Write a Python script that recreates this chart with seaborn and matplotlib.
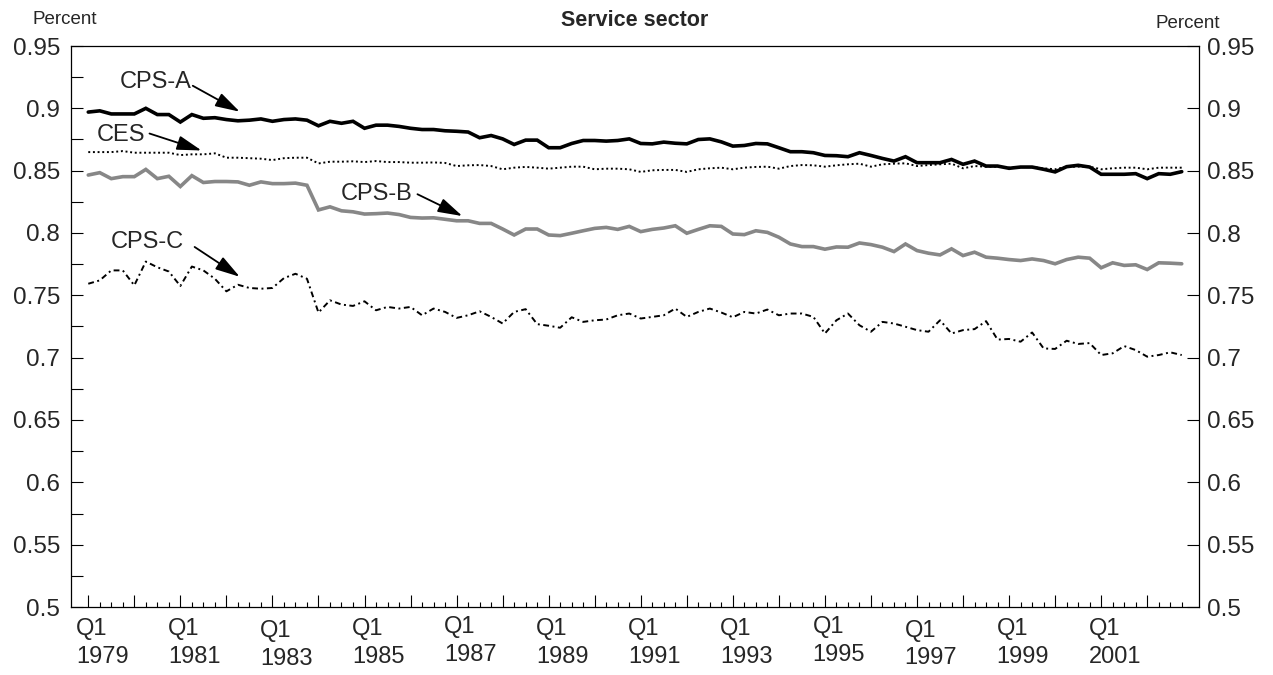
import numpy as np
import pandas as pd
import seaborn as sns
import matplotlib.pyplot as plt
from matplotlib.ticker import FixedLocator, NullFormatter

# Quarterly ratios, 1979Q1 - 2002Q4
start_year = 1979
n_quarters = 96

cps_a = [0.897, 0.898, 0.8955, 0.8955, 0.8955, 0.900, 0.895, 0.895, 0.889, 0.895,
         0.892, 0.8925, 0.891, 0.890, 0.8905, 0.8915, 0.8896, 0.891, 0.8915, 0.8905,
         0.886, 0.8896, 0.888, 0.8896, 0.884, 0.8865, 0.8865, 0.8855, 0.884, 0.883,
         0.883, 0.882, 0.8816, 0.881, 0.8764, 0.8782, 0.8755, 0.871, 0.8745, 0.8745,
         0.8684, 0.8684, 0.8718, 0.8742, 0.8742, 0.8737, 0.8742, 0.8755, 0.8718, 0.8715,
         0.8729, 0.872, 0.8715, 0.875, 0.8755, 0.8731, 0.8697, 0.8702, 0.8718, 0.8715,
         0.8684, 0.8652, 0.8652, 0.8644, 0.8622, 0.862, 0.8612, 0.8644, 0.8622, 0.8598,
         0.8577, 0.8612, 0.8564, 0.8564, 0.8564, 0.859, 0.8551, 0.8577, 0.8537, 0.8537,
         0.8519, 0.8529, 0.8529, 0.8511, 0.849, 0.8532, 0.8543, 0.8529, 0.8471, 0.8471,
         0.8471, 0.8476, 0.8436, 0.8476, 0.8471, 0.8492]

ces = [0.8649, 0.8649, 0.8649, 0.8657, 0.8644, 0.8644, 0.8644, 0.8644, 0.8625, 0.8631,
       0.8631, 0.8639, 0.8604, 0.8604, 0.8600, 0.8596, 0.8585, 0.8600, 0.8604, 0.8604,
       0.8558, 0.8572, 0.8572, 0.8575, 0.8569, 0.8577, 0.8569, 0.8569, 0.8564, 0.8564,
       0.8566, 0.8562, 0.8537, 0.8543, 0.8545, 0.8537, 0.8511, 0.8524, 0.853, 0.8524,
       0.8516, 0.8524, 0.8532, 0.8532, 0.8511, 0.8516, 0.8516, 0.8511, 0.849, 0.8503,
       0.8506, 0.8506, 0.849, 0.8511, 0.8519, 0.8524, 0.8511, 0.8524, 0.853, 0.8532,
       0.8516, 0.8537, 0.8545, 0.8543, 0.8532, 0.8543, 0.8551, 0.8556, 0.8532, 0.8551,
       0.8556, 0.8559, 0.8537, 0.8545, 0.8551, 0.8556, 0.8519, 0.8537, 0.8532, 0.8532,
       0.8524, 0.8529, 0.8529, 0.8519, 0.8511, 0.8532, 0.8532, 0.8532, 0.8511, 0.8519,
       0.8524, 0.8524, 0.8511, 0.8524, 0.8524, 0.8524]

cps_b = [0.8465, 0.8484, 0.8436, 0.8452, 0.8452, 0.851, 0.8436, 0.8455, 0.8373, 0.846,
         0.8405, 0.8413, 0.8413, 0.841, 0.8383, 0.841, 0.8396, 0.8396, 0.840, 0.8383,
         0.8185, 0.821, 0.8178, 0.817, 0.8152, 0.8155, 0.816, 0.8148, 0.8125, 0.812,
         0.8122, 0.811, 0.8098, 0.8098, 0.8077, 0.8077, 0.8032, 0.7984, 0.8032, 0.8032,
         0.7984, 0.7979, 0.7998, 0.8018, 0.8037, 0.8045, 0.8029, 0.8053, 0.8011, 0.8029,
         0.804, 0.8058, 0.7998, 0.8029, 0.8058, 0.8053, 0.7992, 0.7987, 0.8018, 0.8005,
         0.7966, 0.7912, 0.7891, 0.7891, 0.787, 0.7888, 0.7886, 0.792, 0.7907, 0.7886,
         0.7851, 0.7912, 0.7859, 0.7838, 0.7824, 0.7873, 0.7819, 0.7846, 0.7806, 0.7798,
         0.7787, 0.7779, 0.7792, 0.7779, 0.7753, 0.7787, 0.7806, 0.7798, 0.7721, 0.7761,
         0.774, 0.7745, 0.7707, 0.7761, 0.7758, 0.7753]

cps_c = [0.7593, 0.762, 0.770, 0.770, 0.758, 0.7771, 0.7725, 0.7691, 0.7575, 0.7731,
         0.770, 0.7633, 0.7532, 0.7585, 0.7559, 0.7553, 0.7559, 0.7638, 0.7673, 0.7633,
         0.7362, 0.746, 0.7426, 0.7415, 0.7452, 0.738, 0.7407, 0.7394, 0.7407, 0.734,
         0.7394, 0.7367, 0.7319, 0.734, 0.7372, 0.7327, 0.7274, 0.7367, 0.7389, 0.7269,
         0.7256, 0.724, 0.7324, 0.7287, 0.730, 0.7306, 0.734, 0.7354, 0.7314, 0.7327,
         0.734, 0.7394, 0.7327, 0.7367, 0.7394, 0.7362, 0.7324, 0.7367, 0.7354, 0.7386,
         0.734, 0.7354, 0.7354, 0.7327, 0.7194, 0.730, 0.7354, 0.726, 0.7208, 0.7287,
         0.7274, 0.7248, 0.7221, 0.7208, 0.730, 0.7194, 0.7221, 0.7229, 0.7293, 0.7145,
         0.715, 0.7128, 0.7202, 0.7074, 0.707, 0.7136, 0.711, 0.7117, 0.7021, 0.7035,
         0.7093, 0.7061, 0.7008, 0.7021, 0.7043, 0.7021]

series_names = ["CPS-A", "CES", "CPS-B", "CPS-C"]
label_years = list(range(1979, 2002, 2))
y_ticks = [0.5, 0.55, 0.6, 0.65, 0.7, 0.75, 0.8, 0.85, 0.9, 0.95]
y_tick_labels = ["0.5", "0.55", "0.6", "0.65", "0.7", "0.75", "0.8", "0.85", "0.9", "0.95"]

# time axis in fractional years
t = start_year + np.arange(n_quarters) / 4.0
df = pd.DataFrame({
    "t": np.tile(t, 4),
    "value": np.concatenate([cps_a, ces, cps_b, cps_c]),
    "series": np.repeat(series_names, n_quarters),
})

sns.set_theme(style="white")
plt.rcParams["font.family"] = ["Liberation Sans", "DejaVu Sans"]

fig = plt.figure(figsize=(12.73, 6.75), dpi=100)
ax = fig.add_axes([71 / 1273, 1 - 607 / 675, (1199 - 71) / 1273, (607 - 46) / 675])

styles = {
    "CPS-A": dict(color="black", lw=2.6, ls="-"),
    "CES": dict(color="black", lw=1.4, ls=(0, (1.0, 1.4))),
    "CPS-B": dict(color="#878787", lw=2.6, ls="-"),
    "CPS-C": dict(color="black", lw=1.4, ls=(0, (3.0, 1.8, 1.0, 1.8))),
}
for name in series_names:
    st = styles[name]
    sns.lineplot(data=df[df["series"] == name], x="t", y="value", ax=ax,
                 color=st["color"], lw=st["lw"], linestyle=st["ls"],
                 legend=False, solid_joinstyle="miter")

ax.set_xlim(start_year - 0.375, start_year + (n_quarters - 1) / 4 + 0.375)
ax.set_ylim(0.5, 0.95)
ax.set_xlabel("")
ax.set_ylabel("")

for sp in ax.spines.values():
    sp.set_color("black")
    sp.set_linewidth(0.9)
    sp.set_visible(True)

# x axis: yearly major ticks, quarterly minor ticks, all pointing inward
ax.xaxis.set_major_locator(FixedLocator(np.arange(start_year, start_year + n_quarters / 4)))
ax.xaxis.set_minor_locator(FixedLocator(t))
ax.xaxis.set_major_formatter(NullFormatter())
ax.tick_params(axis="x", which="major", direction="in", length=8.6, width=0.8,
               color="black", bottom=True, top=False)
ax.tick_params(axis="x", which="minor", direction="in", length=3.6, width=0.8,
               color="black", bottom=True, top=False)

# two-line quarter labels; a few sit slightly off the common baseline
label_nudge = {1983: -1.5, 1987: 1.2, 1995: 1.5, 1997: -1.2}
for yr in label_years:
    dy = label_nudge.get(yr, 0.0)
    ax.annotate(f"Q1\n{yr}", xy=(yr, 0), xycoords=ax.get_xaxis_transform(),
                xytext=(-9, -8 + dy), textcoords="offset points",
                ha="left", va="top", fontsize=17, linespacing=1.33)

# left y axis
ax.yaxis.set_major_locator(FixedLocator(y_ticks))
ax.yaxis.set_minor_locator(FixedLocator(np.arange(0.525, 0.95, 0.05)))
ax.set_yticklabels(y_tick_labels)
ax.tick_params(axis="y", which="both", direction="in", length=8.6, width=0.8,
               color="black", left=True, right=False, labelsize=17.5, pad=8)

# right y axis
axr = ax.twinx()
axr.set_ylim(ax.get_ylim())
axr.yaxis.set_major_locator(FixedLocator(y_ticks))
axr.set_yticklabels(y_tick_labels)
axr.tick_params(axis="y", which="major", direction="in", length=8.6, width=0.8,
                color="black", labelsize=17.5, pad=6)
axr.grid(False)
for sp in axr.spines.values():
    sp.set_visible(False)

# series annotations
notes = [
    ("CPS-A", (1980.46, 0.9209), (1981.27, 0.9181), (1982.29, 0.8973)),
    ("CES", (1979.71, 0.8786), (1980.33, 0.8798), (1981.46, 0.8662)),
    ("CPS-B", (1985.27, 0.8311), (1986.15, 0.8311), (1987.125, 0.8136)),
    ("CPS-C", (1980.29, 0.7924), (1981.31, 0.7888), (1982.29, 0.7649)),
]
for text, pos, a0, a1 in notes:
    ax.text(pos[0], pos[1], text, ha="center", va="center", fontsize=17)
    ax.annotate("", xy=a1, xytext=a0,
                arrowprops=dict(arrowstyle="-|>,head_length=0.75,head_width=0.22",
                                color="black", lw=1.3, mutation_scale=20,
                                shrinkA=0, shrinkB=0))

fig.text(635 / 1273, 1 - 21 / 675, "Service sector", ha="center", va="center",
         fontsize=15.5, fontweight="bold")
fig.text(33 / 1273, 1 - 19 / 675, "Percent", ha="left", va="center", fontsize=13.5)
fig.text(1188 / 1273, 1 - 23 / 675, "Percent", ha="center", va="center", fontsize=13.5)

fig.savefig("out.png", dpi=100)
